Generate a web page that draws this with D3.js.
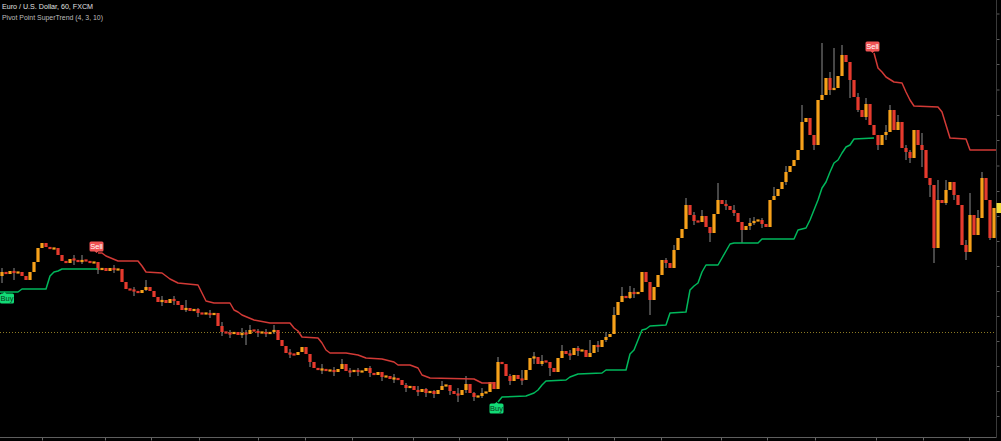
<!DOCTYPE html>
<html><head><meta charset="utf-8">
<script src="https://cdn.jsdelivr.net/npm/d3@7"></script>
<style>html,body{margin:0;padding:0;background:#000;overflow:hidden}</style>
</head><body><svg id="c" width="1001" height="441"></svg>
<script>
const title = "Euro / U.S. Dollar, 60, FXCM";
const subtitle = "Pivot Point SuperTrend (4, 3, 10)";
const firstOpen = 1.1140;
const closes = [
1.1144,1.1142,1.1145,1.1143,1.1144,1.1140,1.1136,1.1144,1.1154,1.1168,
1.1173,1.1169,1.1167,1.1168,1.1161,1.1155,1.1153,1.1157,1.1156,1.1154,
1.1156,1.1155,1.1153,1.1154,1.1146,1.1148,1.1145,1.1148,1.1146,1.1147,
1.1134,1.1127,1.1126,1.1125,1.1123,1.1126,1.1129,1.1125,1.1119,1.1114,
1.1116,1.1113,1.1117,1.1115,1.1111,1.1106,1.1108,1.1105,1.1107,1.1103,
1.1102,1.1103,1.1101,1.1103,1.1090,1.1084,1.1083,1.1082,1.1084,1.1081,
1.1083,1.1082,1.1086,1.1085,1.1083,1.1084,1.1082,1.1084,1.1086,1.1076,
1.1070,1.1063,1.1062,1.1061,1.1064,1.1069,1.1062,1.1054,1.1048,1.1046,
1.1047,1.1045,1.1046,1.1044,1.1047,1.1052,1.1045,1.1044,1.1046,1.1044,
1.1045,1.1048,1.1043,1.1041,1.1044,1.1039,1.1040,1.1037,1.1038,1.1036,
1.1031,1.1028,1.1030,1.1026,1.1024,1.1027,1.1023,1.1025,1.1022,1.1026,
1.1030,1.1031,1.1025,1.1022,1.1021,1.1026,1.1032,1.1023,1.1019,1.1020,
1.1023,1.1024,1.1034,1.1027,1.1054,1.1052,1.1040,1.1035,1.1041,1.1037,
1.1036,1.1046,1.1058,1.1059,1.1052,1.1055,1.1054,1.1048,1.1044,1.1058,
1.1065,1.1062,1.1061,1.1068,1.1065,1.1066,1.1059,1.1063,1.1071,1.1069,
1.1076,1.1079,1.1082,1.1101,1.1114,1.1120,1.1118,1.1124,1.1122,1.1124,
1.1144,1.1134,1.1116,1.1129,1.1141,1.1156,1.1153,1.1148,1.1166,1.1178,
1.1187,1.1211,1.1201,1.1195,1.1194,1.1200,1.1189,1.1183,1.1202,1.1216,
1.1212,1.1210,1.1206,1.1203,1.1194,1.1186,1.1190,1.1193,1.1195,1.1196,
1.1192,1.1189,1.1216,1.1220,1.1227,1.1234,1.1244,1.1250,1.1256,1.1266,
1.1294,1.1298,1.1281,1.1271,1.1316,1.1321,1.1338,1.1326,1.1328,1.1340,
1.1361,1.1354,1.1336,1.1319,1.1306,1.1299,1.1312,1.1291,1.1281,1.1271,
1.1281,1.1284,1.1306,1.1286,1.1294,1.1268,1.1264,1.1258,1.1286,1.1271,
1.1266,1.1238,1.1231,1.1168,1.1216,1.1213,1.1226,1.1234,1.1221,1.1211,
1.1171,1.1164,1.1201,1.1181,1.1198,1.1238,1.1216,1.1178,1.1208
];
// notable wicks: bar index, high, low
const wickBars  = [0,3,18,24,36,40,46,52,57,61,62,66,77,85,89,95,108,114,116,118,124,130,133,137,140,144,147,153,155,158,162,166,171,175,177,179,183,185,188,193,200,203,205,208,210,212,214,219,222,224,227,230,232,233,234,238,241,242,245,247,
  20,28,33,43,49,55,60,64,68,72,80,83,87,92,98,101,104,106,110,112,120,127,135,142,149,151,157,168,173,181,187,190,196,207,216,221,226,236,244];
const wickHighs = [1.1148,1.1148,1.1161,1.1151,1.1136,1.1120,1.1116,1.1106,1.1086,1.1086,1.1091,1.1087,1.1062,1.1057,1.1048,1.1044,1.1026,1.1028,1.1040,1.1024,1.1059,1.1046,1.1064,1.1051,1.1071,1.1070,1.1076,1.1109,1.1129,1.1128,1.1129,1.1158,1.1218,1.1206,1.1189,1.1233,1.1211,1.1194,1.1199,1.1229,1.1311,1.1281,1.1373,1.1368,1.1371,1.1341,1.1323,1.1281,1.1311,1.1301,1.1266,1.1283,1.1236,1.1231,1.1236,1.1231,1.1176,1.1223,1.1244,1.1216,
  1.1161,1.1151,1.1129,1.1120,1.1108,1.1094,1.1088,1.1087,1.1091,1.1067,1.1052,1.1049,1.1048,1.1050,1.1042,1.1033,1.1030,1.1028,1.1035,1.1031,1.1028,1.1042,1.1061,1.1066,1.1075,1.1084,1.1130,1.1171,1.1204,1.1216,1.1198,1.1198,1.1250,1.1344,1.1318,1.1291,1.1271,1.1236,1.1206];
const wickLows  = [1.1133,1.1136,1.1151,1.1142,1.1125,1.1110,1.1104,1.1098,1.1078,1.1071,1.1083,1.1079,1.1049,1.1048,1.1040,1.1035,1.1018,1.1014,1.1023,1.1015,1.1027,1.1031,1.1052,1.1040,1.1060,1.1060,1.1059,1.1082,1.1114,1.1118,1.1101,1.1148,1.1187,1.1194,1.1174,1.1202,1.1200,1.1173,1.1191,1.1216,1.1266,1.1266,1.1316,1.1326,1.1340,1.1318,1.1304,1.1266,1.1284,1.1286,1.1253,1.1249,1.1219,1.1153,1.1168,1.1216,1.1156,1.1164,1.1199,1.1176,
  1.1152,1.1143,1.1120,1.1111,1.1099,1.1080,1.1078,1.1079,1.1082,1.1058,1.1042,1.1040,1.1039,1.1039,1.1033,1.1024,1.1020,1.1019,1.1026,1.1021,1.1018,1.1031,1.1050,1.1056,1.1064,1.1074,1.1117,1.1148,1.1191,1.1206,1.1186,1.1188,1.1231,1.1321,1.1296,1.1276,1.1256,1.1211,1.1181];

// SuperTrend segments: [bar, level]
const upTrend1 = [[-1,1.1124],[4,1.1124],[5,1.1127],[11,1.1127],[12,1.1140],[13,1.1144],[14,1.1145],[15,1.1147],[24,1.1147]];
const downTrend1 = [[24,1.1163],[25,1.1163],[26,1.1160],[29,1.1155],[34,1.1155],[35,1.1150],[36,1.1144],[40,1.1143],[41,1.1140],[42,1.1137],[43,1.1135],[44,1.1133],[49,1.1131],[50,1.1123],[51,1.1115],[53,1.1113],[57,1.1113],[58,1.1106],[59,1.1104],[60,1.1101],[63,1.1096],[67,1.1093],[72,1.1093],[73,1.1088],[74,1.1085],[75,1.1079],[79,1.1078],[80,1.1073],[81,1.1066],[82,1.1063],[86,1.1063],[89,1.1061],[91,1.1058],[95,1.1057],[98,1.1054],[99,1.1051],[102,1.1051],[104,1.1048],[105,1.1041],[107,1.1038],[118,1.1037],[120,1.1033],[123,1.1033]];
const upTrend2 = [[124,1.1014],[125,1.1019],[131,1.1020],[133,1.1023],[134,1.1026],[135,1.1031],[136,1.1035],[141,1.1036],[142,1.1039],[144,1.1042],[150,1.1043],[151,1.1046],[156,1.1046],[157,1.1062],[158,1.1066],[159,1.1076],[160,1.1086],[161,1.1087],[162,1.1090],[166,1.1091],[167,1.1103],[171,1.1104],[172,1.1126],[173,1.1130],[174,1.1133],[175,1.1144],[176,1.1151],[179,1.1151],[180,1.1158],[181,1.1165],[182,1.1172],[183,1.1173],[189,1.1173],[190,1.1177],[198,1.1177],[199,1.1186],[201,1.1188],[202,1.1196],[203,1.1206],[204,1.1216],[205,1.1228],[206,1.1234],[207,1.1244],[208,1.1253],[209,1.1256],[210,1.1263],[211,1.1269],[212,1.1271],[213,1.1277],[218,1.1278]];
const downTrend2 = [[218,1.1363],[219,1.1348],[220,1.1344],[221,1.1339],[223,1.1334],[225,1.1333],[226,1.1324],[227,1.1316],[228,1.1310],[234,1.1309],[235,1.1304],[236,1.1291],[237,1.1278],[241,1.1277],[242,1.1266],[248.5,1.1266]];

const signalBars = [1, 24, 124, 218];
const signalTypes = ["Buy", "Sell", "Buy", "Sell"];
const signalLevels = [1.1124, 1.1163, 1.1014, 1.1363];

const refLevel = 1.1084;
const xTickBars = [10,25.75,37.25,49.25,64,75.75,87.5,102.75,114.25,126.25,141.5,153,164.75,179.75,191.25,203.25,218.5,230.25,241.75];
const yTickPrices = [1.1000,1.1025,1.1050,1.1075,1.1100,1.1125,1.1150,1.1175,1.1200,1.1225,1.12505,1.1276,1.1301,1.13265,1.1352,1.1377,1.14025];

const W = 1001, H = 441;
const axisX = 996.5, axisY = 437.5;
const svg = d3.select("#c");
svg.append("rect").attr("width", W).attr("height", H).attr("fill", "#000");

const x = d3.scaleLinear().domain([0, 248]).range([2, 994]);
const y = d3.scaleLinear().domain([1.1000, 1.1416]).range([416, 0]);

// reference dotted level
svg.append("line").attr("x1", 0).attr("x2", axisX).attr("y1", Math.round(y(refLevel)) + 0.5).attr("y2", Math.round(y(refLevel)) + 0.5)
  .attr("stroke", "#8c7a24").attr("stroke-width", 1).attr("stroke-dasharray", "1,2");

// candles
const wickMap = new Map(wickBars.map((b, k) => [b, [wickHighs[k], wickLows[k]]]));
const candles = closes.map((c, i) => {
  const o = i === 0 ? firstOpen : closes[i - 1];
  const w = wickMap.get(i);
  return {i, o, c, h: w ? Math.max(w[0], o, c) : Math.max(o, c), l: w ? Math.min(w[1], o, c) : Math.min(o, c)};
});
const gC = svg.append("g");
gC.selectAll("line.w").data(candles.filter(d => wickMap.has(d.i))).join("line")
  .attr("x1", d => x(d.i)).attr("x2", d => x(d.i))
  .attr("y1", d => y(d.h)).attr("y2", d => y(d.l))
  .attr("stroke", "#8d8d8d").attr("stroke-width", 1);
const bw = 3.2, minH = 2.2;
gC.selectAll("rect.b").data(candles).join("rect")
  .attr("x", d => x(d.i) - bw / 2).attr("width", bw)
  .attr("y", d => {
    const t = y(Math.max(d.o, d.c)), hgt = Math.abs(y(d.o) - y(d.c));
    return hgt < minH ? t - (minH - hgt) / 2 : t;
  })
  .attr("height", d => Math.max(minH, Math.abs(y(d.o) - y(d.c))))
  .attr("fill", d => d.c >= d.o ? "#f7a11a" : "#e63a2e");

// supertrend lines
const line = d3.line().x(d => x(d[0])).y(d => y(d[1]));
[[upTrend1, "#00b85c"], [downTrend1, "#d23a36"], [upTrend2, "#00b85c"], [downTrend2, "#d23a36"]].forEach(([pts, col]) => {
  svg.append("path").attr("d", line(pts)).attr("fill", "none").attr("stroke", col).attr("stroke-width", 1.5).attr("stroke-linejoin", "round");
});

// signal labels
const lw = 14, lh = 10;
signalBars.forEach((b, k) => {
  const px = x(b) - 1.5;
  const cx = Math.max(lw / 2, px), ly = y(signalLevels[k]);
  const isBuy = signalTypes[k] === "Buy";
  const col = isBuy ? "#12db76" : "#f05454";
  const g = svg.append("g");
  if (isBuy) {
    g.append("path").attr("d", `M${px - 2},${ly + 2} L${px},${ly} L${px + 2},${ly + 2} Z`).attr("fill", col);
    g.append("rect").attr("x", cx - lw / 2).attr("y", ly + 1.5).attr("width", lw).attr("height", lh).attr("rx", 1.5).attr("fill", col);
    g.append("text").attr("x", cx).attr("y", ly + 9.3).attr("text-anchor", "middle")
      .attr("font-family", "Liberation Sans Narrow, Liberation Sans, sans-serif").attr("font-size", 7.5).attr("fill", "#0b3a20").text(signalTypes[k]);
  } else {
    g.append("path").attr("d", `M${px - 2},${ly - 2} L${px},${ly} L${px + 2},${ly - 2} Z`).attr("fill", col);
    g.append("rect").attr("x", cx - lw / 2).attr("y", ly - 1.5 - lh).attr("width", lw).attr("height", lh).attr("rx", 1.5).attr("fill", col);
    g.append("text").attr("x", cx).attr("y", ly - 4.2).attr("text-anchor", "middle")
      .attr("font-family", "Liberation Sans Narrow, Liberation Sans, sans-serif").attr("font-size", 7.5).attr("fill", "#ffffff").text(signalTypes[k]);
  }
});

// axes
const xAxis = d3.axisBottom(x).tickValues(xTickBars).tickSize(3).tickSizeOuter(0).tickFormat("");
const gx = svg.append("g").attr("transform", `translate(0,${axisY})`).call(xAxis);
gx.select(".domain").remove();
gx.selectAll(".tick line").attr("stroke", "#6a6a6a");
svg.append("line").attr("x1", 0).attr("x2", axisX).attr("y1", axisY).attr("y2", axisY).attr("stroke", "#5e5e5e");

const yAxis = d3.axisRight(y).tickValues(yTickPrices).tickSize(3).tickSizeOuter(0).tickFormat("");
const gy = svg.append("g").attr("transform", `translate(${axisX},0)`).call(yAxis);
gy.select(".domain").remove();
gy.selectAll(".tick line").attr("stroke", "#5a5a5a");
svg.append("line").attr("x1", axisX).attr("x2", axisX).attr("y1", 0).attr("y2", axisY).attr("stroke", "#3a3a3a");

// last price marker
const lastY = y(closes[closes.length - 1]);
svg.append("rect").attr("x", axisX).attr("y", lastY - 5).attr("width", 6).attr("height", 10).attr("fill", "#f2dc3c");

// header
svg.append("text").attr("x", 2).attr("y", 9).attr("font-family", "Liberation Sans, sans-serif").attr("font-size", 8)
  .attr("textLength", 91).attr("lengthAdjust", "spacingAndGlyphs").attr("fill", "#e0e0e0").text(title);
svg.append("text").attr("x", 2).attr("y", 19.5).attr("font-family", "Liberation Sans, sans-serif").attr("font-size", 8)
  .attr("textLength", 101).attr("lengthAdjust", "spacingAndGlyphs").attr("fill", "#bdbdbd").text(subtitle);
</script>
</body></html>
